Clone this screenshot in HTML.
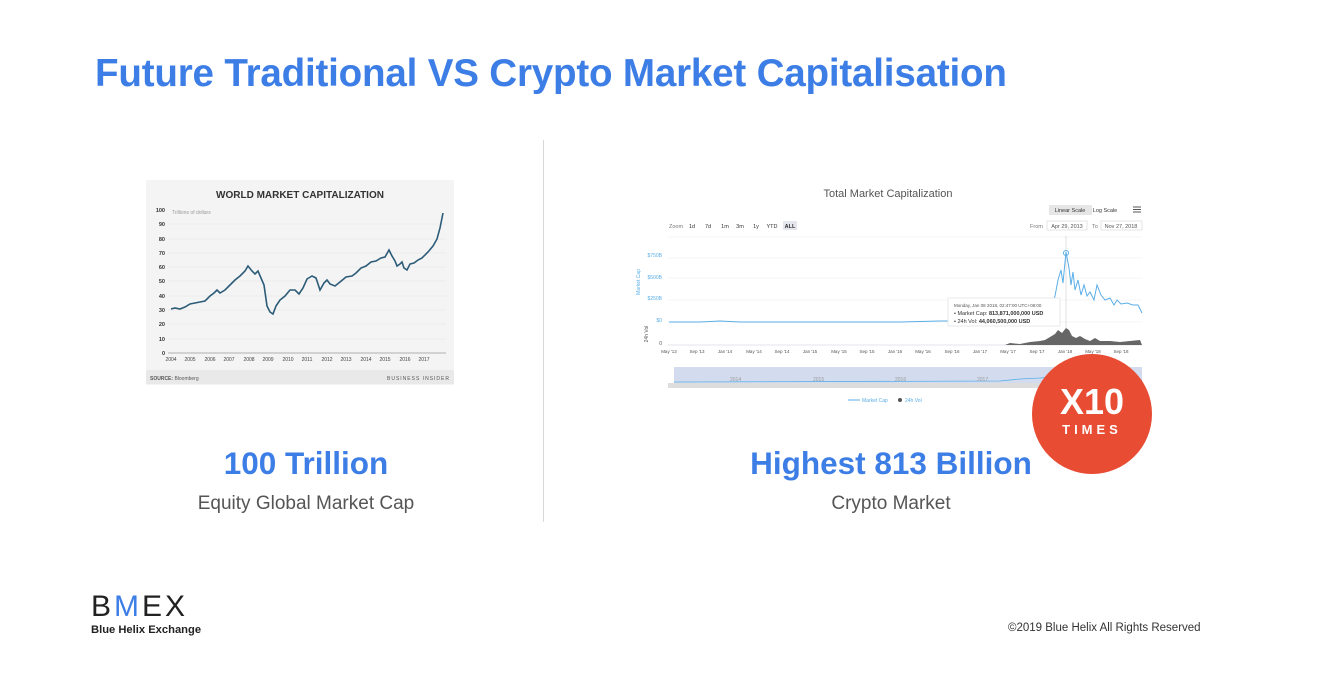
<!DOCTYPE html>
<html><head><style>
body{margin:0;width:1326px;height:682px;background:#fff;font-family:"Liberation Sans",sans-serif;position:relative;overflow:hidden}
.a{position:absolute}
</style></head><body>
<div class="a" style="left:95px;top:52px;font-size:38.6px;font-weight:bold;color:#3d7ee6;letter-spacing:-0.2px;white-space:nowrap">Future Traditional VS Crypto Market Capitalisation</div>
<div class="a" style="left:543px;top:140px;width:1px;height:382px;background:#d8d8d8"></div>

<svg class="a" style="left:146px;top:180px" width="308" height="205" viewBox="146 180 308 205">
<rect x="146" y="180" width="308" height="205" fill="#f4f4f4"/>
<rect x="146" y="370" width="308" height="14" fill="#e9e9e9"/>
<text x="300" y="198" font-size="10" font-weight="bold" text-anchor="middle" fill="#333">WORLD MARKET CAPITALIZATION</text>
<g stroke="#e2e2e2" stroke-width="0.6">
<line x1="168" x2="446" y1="339" y2="339"/><line x1="168" x2="446" y1="324" y2="324"/><line x1="168" x2="446" y1="310" y2="310"/><line x1="168" x2="446" y1="296" y2="296"/><line x1="168" x2="446" y1="281" y2="281"/><line x1="168" x2="446" y1="267" y2="267"/><line x1="168" x2="446" y1="253" y2="253"/><line x1="168" x2="446" y1="239" y2="239"/><line x1="168" x2="446" y1="224" y2="224"/></g>
<line x1="168" x2="446" y1="353" y2="353" stroke="#999" stroke-width="0.8"/>
<g font-size="5.5" fill="#333" text-anchor="end" font-weight="bold">
<text x="165" y="355">0</text><text x="165" y="341">10</text><text x="165" y="326">20</text><text x="165" y="312">30</text><text x="165" y="298">40</text><text x="165" y="283">50</text><text x="165" y="269">60</text><text x="165" y="255">70</text><text x="165" y="241">80</text><text x="165" y="226">90</text><text x="165" y="212">100</text></g>
<text x="172" y="214" font-size="5" fill="#999">Trillions of dollars</text>
<g font-size="5" fill="#444" text-anchor="middle">
<text x="171" y="361">2004</text><text x="190" y="361">2005</text><text x="210" y="361">2006</text><text x="229" y="361">2007</text><text x="249" y="361">2008</text><text x="268" y="361">2009</text><text x="288" y="361">2010</text><text x="307" y="361">2011</text><text x="327" y="361">2012</text><text x="346" y="361">2013</text><text x="366" y="361">2014</text><text x="385" y="361">2015</text><text x="405" y="361">2016</text><text x="424" y="361">2017</text></g>
<polyline fill="none" stroke="#2d5c78" stroke-width="1.6" points="171,309 175,308 180,309 185,307 190,304 195,303 200,302 205,301 210,296 214,293 217,290 220,293 225,290 229,286 235,280 240,276 245,271 248,266 252,271 255,274 258,271 261,278 264,285 267,306 270,312 273,314 276,306 280,300 285,296 290,290 295,290 299,294 303,288 307,279 312,276 316,278 320,290 324,283 327,280 330,284 335,286 340,282 346,277 352,276 356,273 361,268 366,266 371,262 376,261 381,258 385,257 389,250 392,256 395,261 397,266 400,264 402,262 404,268 407,270 410,264 414,263 418,260 422,258 428,252 433,246 437,239 440,228 443,213"/>
<text x="150" y="380" font-size="5" fill="#555"><tspan font-weight="bold">SOURCE:</tspan> Bloomberg</text>
<text x="450" y="380" font-size="5" fill="#555" text-anchor="end" letter-spacing="1">BUSINESS INSIDER</text>
</svg>

<svg class="a" style="left:620px;top:180px" width="530" height="230" viewBox="620 180 530 230">
<text x="888" y="197" font-size="11" fill="#555" text-anchor="middle">Total Market Capitalization</text>
<rect x="1049" y="205" width="43" height="10" fill="#e6e6e6"/>
<text x="1070" y="212" font-size="5.5" fill="#333" text-anchor="middle">Linear Scale</text>
<text x="1105" y="212" font-size="5.5" fill="#333" text-anchor="middle">Log Scale</text>
<g stroke="#555" stroke-width="1"><line x1="1133" x2="1141" y1="207" y2="207"/><line x1="1133" x2="1141" y1="209.5" y2="209.5"/><line x1="1133" x2="1141" y1="212" y2="212"/></g>
<text x="669" y="228" font-size="5.5" fill="#777">Zoom</text>
<g font-size="5.5" fill="#333" text-anchor="middle"><text x="692" y="228">1d</text><text x="708" y="228">7d</text><text x="725" y="228">1m</text><text x="740" y="228">3m</text><text x="756" y="228">1y</text><text x="772" y="228">YTD</text></g>
<rect x="783" y="221" width="14" height="9" fill="#e6e6ee"/><text x="790" y="228" font-size="5.5" font-weight="bold" fill="#333" text-anchor="middle">ALL</text>
<text x="1030" y="228" font-size="5.5" fill="#777">From</text>
<rect x="1047" y="221" width="40" height="9" fill="#fff" stroke="#ccc" stroke-width="0.5"/><text x="1067" y="228" font-size="5.5" fill="#555" text-anchor="middle">Apr 29, 2013</text>
<text x="1092" y="228" font-size="5.5" fill="#777">To</text>
<rect x="1101" y="221" width="41" height="9" fill="#fff" stroke="#ccc" stroke-width="0.5"/><text x="1121" y="228" font-size="5.5" fill="#555" text-anchor="middle">Nov 27, 2018</text>
<g stroke="#eee" stroke-width="0.6"><line x1="668" x2="1142" y1="237" y2="237"/><line x1="668" x2="1142" y1="258" y2="258"/><line x1="668" x2="1142" y1="278" y2="278"/><line x1="668" x2="1142" y1="300" y2="300"/><line x1="668" x2="1142" y1="322" y2="322"/></g>
<g font-size="5" fill="#5aaee8" text-anchor="end"><text x="662" y="257">$750B</text><text x="662" y="279">$500B</text><text x="662" y="300">$250B</text><text x="662" y="322">$0</text></g>
<text x="640" y="282" font-size="5" fill="#5aaee8" transform="rotate(-90 640 282)" text-anchor="middle">Market Cap</text>
<text x="648" y="334" font-size="5" fill="#555" transform="rotate(-90 648 334)" text-anchor="middle">24h Vol</text>
<text x="662" y="345" font-size="5" fill="#555" text-anchor="end">0</text>
<line x1="668" x2="1142" y1="345" y2="345" stroke="#ccd" stroke-width="0.6"/>
<line x1="1066" x2="1066" y1="236" y2="345" stroke="#ccc" stroke-width="0.6"/>
<path d="M1005,345 L1010,343 1020,344 1030,342 1040,341 1045,340 1050,337 1055,334 1058,330 1062,333 1066,328 1069,330 1072,336 1076,338 1080,336 1085,339 1090,341 1095,338 1100,341 1110,341 1120,342 1130,341 1140,340 1142,345 Z" fill="#666"/>
<polyline fill="none" stroke="#5aaee8" stroke-width="1" points="669,322 700,322 720,321 740,322 800,322 900,322 940,321 980,321 1020,320 1040,319 1050,312 1055,296 1058,280 1061,270 1063,283 1066,252 1069,268 1071,285 1073,272 1075,290 1078,280 1081,295 1084,285 1087,296 1090,292 1094,300 1097,285 1101,295 1105,300 1110,298 1114,305 1117,300 1121,304 1127,303 1133,305 1138,305 1142,313"/>
<circle cx="1066" cy="253" r="2.5" fill="none" stroke="#5aaee8" stroke-width="1"/>
<rect x="948" y="298" width="112" height="28" fill="#fff" stroke="#ddd" stroke-width="0.6"/>
<text x="954" y="307" font-size="4.5" fill="#555">Monday, Jan 08 2018, 02:47:00 UTC+08:00</text>
<text x="954" y="315" font-size="5.5" fill="#333">• Market Cap: <tspan font-weight="bold">813,871,000,000 USD</tspan></text>
<text x="954" y="323" font-size="5.5" fill="#333">• 24h Vol: <tspan font-weight="bold">44,060,500,000 USD</tspan></text>
<g font-size="4.5" fill="#555" text-anchor="middle"><text x="669" y="353">May '13</text><text x="697" y="353">Sep '13</text><text x="725" y="353">Jan '14</text><text x="754" y="353">May '14</text><text x="782" y="353">Sep '14</text><text x="810" y="353">Jan '15</text><text x="839" y="353">May '15</text><text x="867" y="353">Sep '15</text><text x="895" y="353">Jan '16</text><text x="923" y="353">May '16</text><text x="952" y="353">Sep '16</text><text x="980" y="353">Jan '17</text><text x="1008" y="353">May '17</text><text x="1037" y="353">Sep '17</text><text x="1065" y="353">Jan '18</text><text x="1093" y="353">May '18</text><text x="1121" y="353">Sep '18</text></g>
<rect x="674" y="367" width="468" height="16" fill="#d3dcef"/>
<rect x="668" y="383" width="474" height="5" fill="#ddd"/>
<polyline fill="none" stroke="#5aaee8" stroke-width="0.8" points="674,382 1000,381 1020,379 1040,378 1060,376 1080,379 1142,380"/>
<g font-size="5" fill="#999"><text x="730" y="381">2014</text><text x="813" y="381">2015</text><text x="895" y="381">2016</text><text x="977" y="381">2017</text></g>
<line x1="848" x2="860" y1="400" y2="400" stroke="#5aaee8"/><text x="862" y="402" font-size="5" fill="#5aaee8">Market Cap</text>
<circle cx="900" cy="400" r="2" fill="#555"/><text x="905" y="402" font-size="5" fill="#5aaee8">24h Vol</text>
</svg>

<div class="a" style="left:1032px;top:354px;width:120px;height:120px;border-radius:50%;background:#e84c33;color:#fff;text-align:center">
<div style="font-size:36px;font-weight:bold;margin-top:30px;line-height:36px">X10</div>
<div style="font-size:13px;font-weight:bold;letter-spacing:4px;margin-top:2px">TIMES</div></div>

<div class="a" style="left:156px;width:300px;top:445px;text-align:center;font-size:31.5px;font-weight:bold;color:#3d7ee6">100 Trillion</div>
<div class="a" style="left:156px;width:300px;top:493px;text-align:center;font-size:19px;color:#555">Equity Global Market Cap</div>
<div class="a" style="left:641px;width:500px;top:445px;text-align:center;font-size:31.5px;font-weight:bold;color:#3d7ee6">Highest 813 Billion</div>
<div class="a" style="left:691px;width:400px;top:493px;text-align:center;font-size:19px;color:#555">Crypto Market</div>

<div class="a" style="left:91px;top:592px;font-size:30px;color:#222;letter-spacing:3px;line-height:30px">B<span style="color:#3d7ee6">M</span>EX</div>
<div class="a" style="left:91px;top:624px;font-size:11.2px;font-weight:bold;color:#222">Blue Helix Exchange</div>
<div class="a" style="left:1008px;top:622px;font-size:11.5px;color:#333">©2019 Blue Helix All Rights Reserved</div>
</body></html>
